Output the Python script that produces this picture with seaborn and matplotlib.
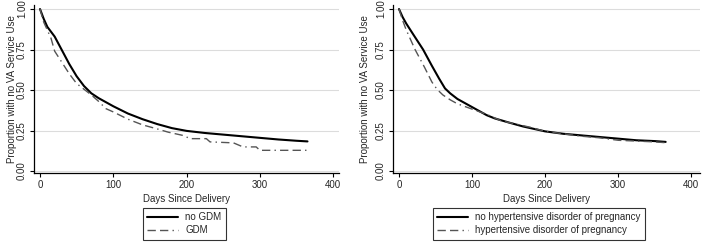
import matplotlib
matplotlib.use("Agg")
import matplotlib.pyplot as plt
import seaborn as sns

# ---- data ----
days_nogdm = [0, 5, 10, 20, 30, 40, 50, 60, 70, 80, 100, 120, 140, 160, 180, 200, 225, 250, 275, 300, 325, 350, 365]
surv_nogdm = [1.0, 0.94, 0.89, 0.83, 0.745, 0.66, 0.585, 0.525, 0.48, 0.45, 0.40, 0.355, 0.32, 0.29, 0.265, 0.248, 0.235, 0.225, 0.215, 0.205, 0.195, 0.187, 0.183]
days_gdm = [0, 5, 10, 15, 20, 25, 30, 40, 50, 60, 70, 80, 90, 100, 120, 140, 160, 175, 195, 205, 227, 232, 264, 277, 295, 300, 365]
surv_gdm = [1.0, 0.92, 0.87, 0.82, 0.74, 0.705, 0.67, 0.60, 0.54, 0.505, 0.47, 0.43, 0.385, 0.365, 0.32, 0.285, 0.26, 0.24, 0.22, 0.20, 0.20, 0.18, 0.174, 0.149, 0.149, 0.128, 0.128]

days_nohdp = [0, 5, 10, 20, 33, 45, 55, 63, 70, 80, 100, 120, 131, 150, 170, 200, 225, 250, 275, 300, 325, 350, 365]
surv_nohdp = [1.0, 0.95, 0.91, 0.84, 0.75, 0.65, 0.57, 0.51, 0.48, 0.445, 0.395, 0.345, 0.325, 0.30, 0.275, 0.245, 0.23, 0.22, 0.21, 0.20, 0.19, 0.185, 0.18]
days_hdp = [0, 5, 10, 22, 35, 45, 52, 60, 70, 80, 104, 120, 140, 160, 180, 200, 225, 250, 275, 300, 325, 350, 365]
surv_hdp = [1.0, 0.93, 0.87, 0.75, 0.64, 0.55, 0.505, 0.47, 0.44, 0.415, 0.376, 0.35, 0.31, 0.29, 0.27, 0.245, 0.23, 0.215, 0.205, 0.19, 0.185, 0.18, 0.175]

x_ticks = [0, 100, 200, 300, 400]
y_ticks = [0.0, 0.25, 0.5, 0.75, 1.0]
y_ticklabels = ["0.00", "0.25", "0.50", "0.75", "1.00"]
xlabel = "Days Since Delivery"
ylabel = "Proportion with no VA Service Use"

sns.set_theme(style="white")
plt.rcParams["font.family"] = ["Liberation Sans", "DejaVu Sans"]

W, H = 702, 246
fig = plt.figure(figsize=(W / 100, H / 100), dpi=100)


def px_axes(x0, x1, ytop, ybot):
    return fig.add_axes([x0 / W, (H - ybot) / H, (x1 - x0) / W, (ybot - ytop) / H])


def setup(ax, xmax, ylabelpad):
    ax.set_xlim(-8.2, xmax)
    ax.set_ylim(-0.012, 1.025)
    ax.set_xticks(x_ticks)
    ax.set_yticks(y_ticks)
    ax.set_yticklabels(y_ticklabels, rotation=90, va="center")
    for y in y_ticks:
        ax.axhline(y, color="#dcdcdc", lw=0.8, zorder=0)
    for s in ["top", "right"]:
        ax.spines[s].set_visible(False)
    for s in ["left", "bottom"]:
        ax.spines[s].set_color("black")
        ax.spines[s].set_linewidth(0.9)
    ax.tick_params(axis="both", which="both", length=3, width=0.8, color="black",
                   labelsize=7, pad=2, direction="out", left=True, bottom=True)
    ax.set_xlabel(xlabel, fontsize=7, labelpad=3)
    ax.set_ylabel(ylabel, fontsize=7, labelpad=ylabelpad)
    ax.grid(False)


def draw(ax, days_a, surv_a, lab_a, days_b, surv_b, lab_b):
    sns.lineplot(x=days_a, y=surv_a, ax=ax, color="black", lw=1.5, label=lab_a)
    sns.lineplot(x=days_b, y=surv_b, ax=ax, color="#555555", lw=1.0, label=lab_b)
    ax.lines[-1].set_dashes([6, 3, 6, 3, 1, 3])
    leg = ax.get_legend()
    if leg:
        leg.remove()


ax1 = px_axes(34, 339, 5, 173)
setup(ax1, 408, 0)
draw(ax1, days_nogdm, surv_nogdm, "no GDM", days_gdm, surv_gdm, "GDM")

ax2 = px_axes(393, 700, 5, 173)
setup(ax2, 412, 4)
draw(ax2, days_nohdp, surv_nohdp, "no hypertensive disorder of pregnancy",
     days_hdp, surv_hdp, "hypertensive disorder of pregnancy")


def add_legend(ax, x0, ytop):
    h = ax.lines[-2:]
    l = [hh.get_label() for hh in h]
    leg = fig.legend(h, l, loc="upper left", bbox_to_anchor=(x0 / W, (H - ytop) / H),
                     fontsize=7, frameon=True, fancybox=False, borderaxespad=0,
                     handlelength=3.2, handletextpad=0.7, borderpad=0.45,
                     labelspacing=0.3)
    fr = leg.get_frame()
    fr.set_edgecolor("black")
    fr.set_linewidth(0.8)
    fr.set_facecolor("white")


add_legend(ax1, 143, 208)
add_legend(ax2, 433, 208)

fig.savefig("out.png", dpi=100, facecolor="white")
